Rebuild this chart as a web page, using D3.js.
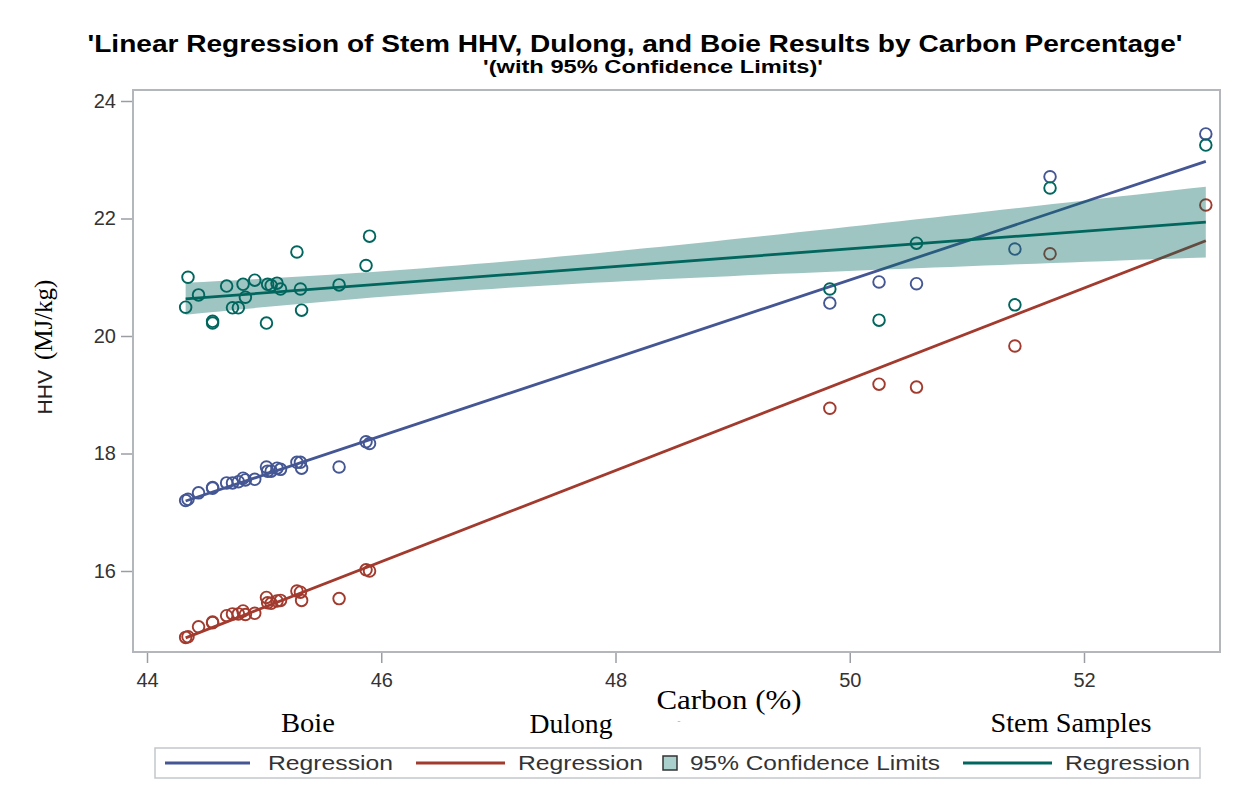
<!DOCTYPE html>
<html>
<head>
<meta charset="utf-8">
<script src="https://cdn.jsdelivr.net/npm/d3@7"></script>
<style>
  html, body { margin: 0; padding: 0; background: #fff; }
  svg { display: block; }
</style>
</head>
<body>
<svg id="chart" width="1239" height="792"></svg>
<script>
// Carbon content of each sample (%)
const carbon = [44.33, 44.35, 44.44, 44.56, 44.56, 44.68, 44.73, 44.78, 44.82, 44.84, 44.92,
                45.02, 45.03, 45.06, 45.11, 45.14, 45.28, 45.31, 45.32, 45.64, 45.87, 45.90,
                49.83, 50.25, 50.57, 51.41, 51.71, 53.04];
// HHV (MJ/kg) estimated by the Boie equation
const boieHHV = [17.20, 17.22, 17.33, 17.41, 17.42, 17.50, 17.50, 17.52, 17.58, 17.55, 17.56,
                 17.77, 17.70, 17.70, 17.75, 17.73, 17.85, 17.85, 17.75, 17.77, 18.20, 18.17,
                 20.56, 20.92, 20.89, 21.48, 22.71, 23.44];
// HHV (MJ/kg) estimated by the Dulong equation
const dulongHHV = [14.87, 14.88, 15.05, 15.12, 15.13, 15.24, 15.27, 15.27, 15.32, 15.26, 15.28,
                   15.55, 15.46, 15.45, 15.49, 15.50, 15.66, 15.64, 15.50, 15.53, 16.02, 16.00,
                   18.77, 19.18, 19.13, 19.83, 21.40, 22.23];
// Measured HHV (MJ/kg) of the stem samples
const stemHHV = [20.49, 21.00, 20.70, 20.25, 20.22, 20.85, 20.48, 20.48, 20.88, 20.66, 20.95,
                 20.22, 20.88, 20.86, 20.90, 20.80, 21.43, 20.80, 20.44, 20.87, 21.20, 21.70,
                 20.80, 20.27, 21.58, 20.53, 22.52, 23.25];

const xTicks = [44, 46, 48, 50, 52];
const yTicks = [16, 18, 20, 22, 24];

const seriesNames = ["Boie", "Dulong", "Stem Samples"];
const legendLabels = ["Regression", "Regression", "95% Confidence Limits", "Regression"];

const COLORS = { boie: "#445694", dulong: "#A23A2E", stem: "#01665E", band: "#01665E" };
const SANS = "'Liberation Sans', Arial, sans-serif";
const SERIF = "'Liberation Serif', 'Times New Roman', serif";

// ---- least-squares fit with 95% confidence limits for the mean ----
function tQuantile975(df) {
  const z = 1.959964;
  return z + (z ** 3 + z) / (4 * df) + (5 * z ** 5 + 16 * z ** 3 + 3 * z) / (96 * df * df);
}
function fit(xs, ys) {
  const n = xs.length;
  const mx = d3.mean(xs), my = d3.mean(ys);
  let sxx = 0, sxy = 0;
  xs.forEach((x, i) => { sxx += (x - mx) ** 2; sxy += (x - mx) * (ys[i] - my); });
  const b = sxy / sxx, a = my - b * mx;
  let sse = 0;
  xs.forEach((x, i) => { sse += (ys[i] - (a + b * x)) ** 2; });
  const s = Math.sqrt(sse / (n - 2));
  const t = tQuantile975(n - 2);
  const pred = x => a + b * x;
  const half = x => t * s * Math.sqrt(1 / n + (x - mx) ** 2 / sxx);
  return { pred, half };
}

const svg = d3.select("#chart");

// Plot area
const x = d3.scaleLinear().domain([44, 52]).range([147, 1084]);
const y = d3.scaleLinear().domain([16, 24]).range([571, 101]);
const frame = { left: 133, top: 90, right: 1220, bottom: 652 };

// Title
svg.append("text")
  .attr("x", 635).attr("y", 52).attr("text-anchor", "middle")
  .attr("font-family", SANS).attr("font-weight", "bold").attr("font-size", 23)
  .attr("textLength", 1095).attr("lengthAdjust", "spacingAndGlyphs")
  .attr("fill", "#000")
  .text("'Linear Regression of Stem HHV, Dulong, and Boie Results by Carbon Percentage'");
svg.append("text")
  .attr("x", 653).attr("y", 73).attr("text-anchor", "middle")
  .attr("font-family", SANS).attr("font-weight", "bold").attr("font-size", 18)
  .attr("textLength", 340).attr("lengthAdjust", "spacingAndGlyphs")
  .attr("fill", "#000")
  .text("'(with 95% Confidence Limits)'");

// Axes
const yAxis = d3.axisLeft(y).tickValues(yTicks).tickSize(12).tickSizeOuter(0).tickPadding(5);
const gy = svg.append("g").attr("transform", `translate(${frame.left},0)`).call(yAxis);
const xAxis = d3.axisBottom(x).tickValues(xTicks).tickSize(11).tickSizeOuter(0).tickPadding(10);
const gx = svg.append("g").attr("transform", `translate(0,${frame.bottom})`).call(xAxis);
[gx, gy].forEach(g => {
  g.select(".domain").remove();
  g.selectAll(".tick line").attr("stroke", "#9a9ea3").attr("stroke-width", 1.5);
  g.selectAll(".tick text").attr("font-family", SANS).attr("font-size", 20).attr("fill", "#333");
});

// Data layers
const plot = svg.append("g");
const xDomainData = d3.extent(carbon);

function drawPoints(values, color) {
  plot.append("g").selectAll("circle")
    .data(values)
    .join("circle")
    .attr("cx", (d, i) => x(carbon[i]))
    .attr("cy", d => y(d))
    .attr("r", 5.8)
    .attr("fill", "none")
    .attr("stroke", color)
    .attr("stroke-width", 1.9);
}
function drawFitLine(f, color) {
  plot.append("path")
    .datum(xDomainData)
    .attr("d", d3.line().x(d => x(d)).y(d => y(f.pred(d))))
    .attr("fill", "none")
    .attr("stroke", color)
    .attr("stroke-width", 2.8);
}

const boieFit = fit(carbon, boieHHV);
const dulongFit = fit(carbon, dulongHHV);
const stemFit = fit(carbon, stemHHV);

drawPoints(boieHHV, COLORS.boie);
drawFitLine(boieFit, COLORS.boie);
drawPoints(dulongHHV, COLORS.dulong);
drawFitLine(dulongFit, COLORS.dulong);

// Confidence band for the stem regression
const bandXs = d3.range(0, 61).map(i => xDomainData[0] + (xDomainData[1] - xDomainData[0]) * i / 60);
plot.append("path")
  .datum(bandXs)
  .attr("d", d3.area()
    .x(d => x(d))
    .y0(d => y(stemFit.pred(d) - stemFit.half(d)))
    .y1(d => y(stemFit.pred(d) + stemFit.half(d))))
  .attr("fill", COLORS.band)
  .attr("fill-opacity", 0.38);

drawPoints(stemHHV, COLORS.stem);
drawFitLine(stemFit, COLORS.stem);

// Frame
svg.append("rect")
  .attr("x", frame.left).attr("y", frame.top)
  .attr("width", frame.right - frame.left).attr("height", frame.bottom - frame.top)
  .attr("fill", "none").attr("stroke", "#b3b7bb").attr("stroke-width", 2);

// Axis titles
svg.append("text")
  .attr("transform", "translate(52,347) rotate(-90)")
  .attr("text-anchor", "middle")
  .call(t => {
    t.append("tspan").attr("font-family", SANS).attr("font-size", 21).attr("fill", "#222").text("HHV");
    t.append("tspan").attr("font-family", SERIF).attr("font-size", 25).attr("fill", "#000").attr("dx", 10).text("(MJ/kg)");
  });
svg.append("text")
  .attr("x", 729).attr("y", 709).attr("text-anchor", "middle")
  .attr("font-family", SERIF).attr("font-size", 28).attr("fill", "#000")
  .attr("textLength", 145).attr("lengthAdjust", "spacingAndGlyphs")
  .text("Carbon (%)");

// Series labels under the axis
const seriesLabelPos = [[308, 732, 54], [571, 733, 83], [1071, 732, 161]];
seriesNames.forEach((name, i) => {
  const [px, py, w] = seriesLabelPos[i];
  svg.append("text")
    .attr("x", px).attr("y", py).attr("text-anchor", "middle")
    .attr("font-family", SERIF).attr("font-size", 27).attr("fill", "#000")
    .attr("textLength", w).attr("lengthAdjust", "spacingAndGlyphs")
    .text(name);
});
svg.append("text")
  .attr("x", 679).attr("y", 724).attr("text-anchor", "middle")
  .attr("font-family", SANS).attr("font-size", 10).attr("fill", "#bbb")
  .text("-");

// Legend
const legend = svg.append("g");
legend.append("rect")
  .attr("x", 155).attr("y", 748).attr("width", 1045).attr("height", 30)
  .attr("fill", "#fff").attr("stroke", "#c4c7ca").attr("stroke-width", 1.5);
const legendItems = [
  { type: "line", color: COLORS.boie, x0: 165, x1: 250, tx: 268, tw: 125 },
  { type: "line", color: COLORS.dulong, x0: 416, x1: 505, tx: 518, tw: 125 },
  { type: "box", color: COLORS.band, x0: 663, x1: 677, tx: 690, tw: 250 },
  { type: "line", color: COLORS.stem, x0: 963, x1: 1052, tx: 1065, tw: 125 }
];
legendItems.forEach((it, i) => {
  if (it.type === "line") {
    legend.append("line")
      .attr("x1", it.x0).attr("x2", it.x1).attr("y1", 763).attr("y2", 763)
      .attr("stroke", it.color).attr("stroke-width", 3);
  } else {
    legend.append("rect")
      .attr("x", it.x0).attr("y", 756).attr("width", it.x1 - it.x0).attr("height", 14)
      .attr("fill", "#a9d0cc").attr("stroke", "#333").attr("stroke-width", 1.5);
  }
  legend.append("text")
    .attr("x", it.tx).attr("y", 770)
    .attr("font-family", SANS).attr("font-size", 20).attr("fill", "#333")
    .attr("textLength", it.tw).attr("lengthAdjust", "spacingAndGlyphs")
    .text(legendLabels[i]);
});
</script>
</body>
</html>
